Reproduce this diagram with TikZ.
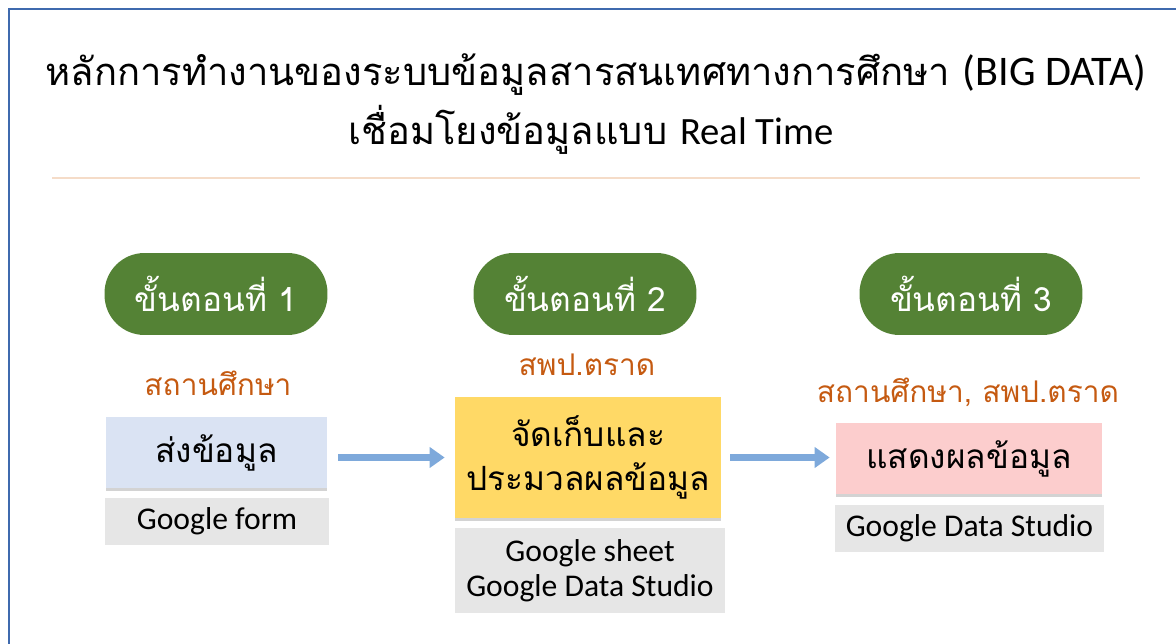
\documentclass[tikz,border=0pt]{standalone}
\usepackage{fontspec}
\setmainfont{Carlito}
\newfontfamily\thaifont[Script=Thai]{Loma}
\usetikzlibrary{shadows,arrows.meta}

\definecolor{cadre}{HTML}{3F6AAE}
\definecolor{trait}{HTML}{F5DCC8}
\definecolor{vert}{HTML}{548235}
\definecolor{lieu}{HTML}{C55A11}
\definecolor{bleu}{HTML}{DAE3F3}
\definecolor{jaune}{HTML}{FFD966}
\definecolor{rose}{HTML}{FCCDCD}
\definecolor{gris}{HTML}{E6E6E6}
\definecolor{fleche}{HTML}{7EA9DB}

\newcommand{\titrethai}{\thaifont\fontsize{21.7}{26}\selectfont}
\newcommand{\titrelatin}{\rmfamily\fontsize{24}{26}\selectfont}

\tikzset{
  etape/.style={fill=vert, text=white, rounded corners=0.8cm, minimum width=4.46cm,
    minimum height=1.64cm, font=\thaifont\fontsize{19}{24}\selectfont},
  lieu/.style={text=lieu, font=\thaifont\fontsize{17}{20}\selectfont},
  tache/.style={drop shadow={opacity=0.35, shadow xshift=0pt, shadow yshift=-1.5pt},
    align=center, font=\thaifont\fontsize{19}{25}\selectfont},
  outil/.style={fill=gris, align=center, font=\fontsize{18}{20}\selectfont},
  relie/.style={fleche, line width=4pt, -{Triangle[length=0.3cm,width=0.4cm]}}
}

\begin{document}
\begin{tikzpicture}[x=0.02cm, y=-0.02cm]
        \useasboundingbox (0,0) rectangle (1176,644);
        % Cadre
        \draw[cadre, line width=1.2pt] (9,644) -- (9,9) -- (1176,9);

        % Titre
        \node (t1) at (596,75) {\titrethai หลักการทำงานของระบบข้อมูลสารสนเทศทางการศึกษา \titrelatin(BIG DATA)};
        \node (t2) at (591,130) {\titrethai เชื่อมโยงข้อมูลแบบ \titrelatin\fontsize{22}{26}\selectfont Real Time};
        \draw[trait, line width=1.2pt] (52,178) -- (1140,178);

        % Etapes
        \node[etape] (e1) at (216,294) {ขั้นตอนที่ 1};
        \node[etape] (e2) at (585,294) {ขั้นตอนที่ 2};
        \node[etape] (e3) at (971,294) {ขั้นตอนที่ 3};

        % Lieux
        \node[lieu] (l1) at (218,383) {สถานศึกษา};
        \node[lieu] (l2) at (587,365) {สพป.ตราด};
        \node[lieu] (l3) at (968,392) {สถานศึกษา, สพป.ตราด};

        % Taches
        \node[tache, fill=bleu, minimum width=4.42cm, minimum height=1.42cm] (b1) at (216.5,452.5) {ส่งข้อมูล};
        \node[tache, fill=jaune, minimum width=5.32cm, minimum height=2.42cm] (b2) at (588,457.5) {จัดเก็บและ\\ประมวลผลข้อมูล};
        \node[tache, fill=rose, minimum width=5.32cm, minimum height=1.42cm] (b3) at (969,458.5) {แสดงผลข้อมูล};

        % Outils
        \node[outil, minimum width=4.48cm, minimum height=0.94cm] (o1) at (217,521.5) {Google form};
        \node[outil, minimum width=5.40cm, minimum height=1.70cm] (o2) at (590,570.5) {Google sheet\\Google Data Studio};
        \node[outil, minimum width=5.38cm, minimum height=0.94cm] (o3) at (969.5,528.5) {Google Data Studio};

        % Fleches
        \draw[relie, shorten <=0.22cm, shorten >=0.2cm] (b1.east |- b2.west) -- (b2.west);
        \draw[relie, shorten <=0.18cm, shorten >=0.12cm] (b2.east) -- (b3.west |- b2.east);
    \end{tikzpicture}
\end{document}
